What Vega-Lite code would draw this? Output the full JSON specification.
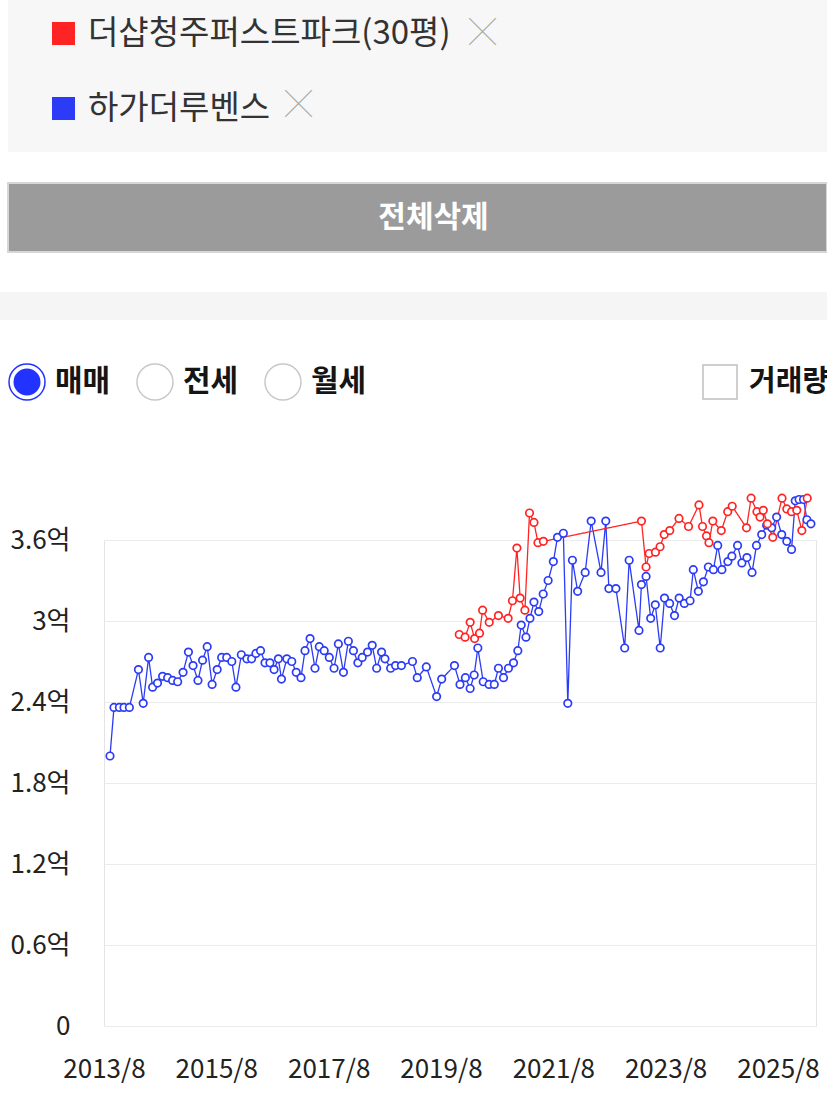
{
  "$schema": "https://vega.github.io/schema/vega-lite/v6.json",
  "background": "white",
  "padding": 0,
  "autosize": {"type": "pad"},
  "bounds": "full",
  "spacing": 39,
  "config": {
    "font": "Noto Sans CJK KR",
    "view": {"stroke": null}
  },
  "datasets": {
    "prices": [
      {"complex":"하가더루벤스","date":"2013-09-09","price":2.00},
      {"complex":"하가더루벤스","date":"2013-10-05","price":2.36},
      {"complex":"하가더루벤스","date":"2013-11-09","price":2.36},
      {"complex":"하가더루벤스","date":"2013-12-09","price":2.36},
      {"complex":"하가더루벤스","date":"2014-01-13","price":2.36},
      {"complex":"하가더루벤스","date":"2014-03-13","price":2.64},
      {"complex":"하가더루벤스","date":"2014-04-13","price":2.39},
      {"complex":"하가더루벤스","date":"2014-05-18","price":2.73},
      {"complex":"하가더루벤스","date":"2014-06-13","price":2.51},
      {"complex":"하가더루벤스","date":"2014-07-15","price":2.54},
      {"complex":"하가더루벤스","date":"2014-08-17","price":2.59},
      {"complex":"하가더루벤스","date":"2014-09-19","price":2.58},
      {"complex":"하가더루벤스","date":"2014-10-21","price":2.56},
      {"complex":"하가더루벤스","date":"2014-11-23","price":2.55},
      {"complex":"하가더루벤스","date":"2014-12-28","price":2.62},
      {"complex":"하가더루벤스","date":"2015-02-01","price":2.77},
      {"complex":"하가더루벤스","date":"2015-03-03","price":2.67},
      {"complex":"하가더루벤스","date":"2015-04-04","price":2.56},
      {"complex":"하가더루벤스","date":"2015-05-04","price":2.71},
      {"complex":"하가더루벤스","date":"2015-06-03","price":2.81},
      {"complex":"하가더루벤스","date":"2015-07-05","price":2.53},
      {"complex":"하가더루벤스","date":"2015-08-07","price":2.64},
      {"complex":"하가더루벤스","date":"2015-09-05","price":2.73},
      {"complex":"하가더루벤스","date":"2015-10-08","price":2.73},
      {"complex":"하가더루벤스","date":"2015-11-10","price":2.70},
      {"complex":"하가더루벤스","date":"2015-12-07","price":2.51},
      {"complex":"하가더루벤스","date":"2016-01-11","price":2.75},
      {"complex":"하가더루벤스","date":"2016-02-16","price":2.72},
      {"complex":"하가더루벤스","date":"2016-03-18","price":2.72},
      {"complex":"하가더루벤스","date":"2016-04-15","price":2.76},
      {"complex":"하가더루벤스","date":"2016-05-15","price":2.78},
      {"complex":"하가더루벤스","date":"2016-06-13","price":2.69},
      {"complex":"하가더루벤스","date":"2016-07-15","price":2.69},
      {"complex":"하가더루벤스","date":"2016-08-11","price":2.64},
      {"complex":"하가더루벤스","date":"2016-09-08","price":2.72},
      {"complex":"하가더루벤스","date":"2016-09-28","price":2.57},
      {"complex":"하가더루벤스","date":"2016-11-02","price":2.72},
      {"complex":"하가더루벤스","date":"2016-12-04","price":2.70},
      {"complex":"하가더루벤스","date":"2017-01-02","price":2.62},
      {"complex":"하가더루벤스","date":"2017-02-02","price":2.58},
      {"complex":"하가더루벤스","date":"2017-02-28","price":2.78},
      {"complex":"하가더루벤스","date":"2017-04-02","price":2.87},
      {"complex":"하가더루벤스","date":"2017-05-04","price":2.65},
      {"complex":"하가더루벤스","date":"2017-06-01","price":2.81},
      {"complex":"하가더루벤스","date":"2017-07-03","price":2.78},
      {"complex":"하가더루벤스","date":"2017-08-05","price":2.73},
      {"complex":"하가더루벤스","date":"2017-09-05","price":2.65},
      {"complex":"하가더루벤스","date":"2017-10-03","price":2.83},
      {"complex":"하가더루벤스","date":"2017-11-05","price":2.62},
      {"complex":"하가더루벤스","date":"2017-12-07","price":2.85},
      {"complex":"하가더루벤스","date":"2018-01-09","price":2.78},
      {"complex":"하가더루벤스","date":"2018-02-07","price":2.69},
      {"complex":"하가더루벤스","date":"2018-03-07","price":2.73},
      {"complex":"하가더루벤스","date":"2018-04-11","price":2.77},
      {"complex":"하가더루벤스","date":"2018-05-11","price":2.82},
      {"complex":"하가더루벤스","date":"2018-06-09","price":2.65},
      {"complex":"하가더루벤스","date":"2018-07-11","price":2.77},
      {"complex":"하가더루벤스","date":"2018-08-02","price":2.72},
      {"complex":"하가더루벤스","date":"2018-09-08","price":2.65},
      {"complex":"하가더루벤스","date":"2018-10-10","price":2.67},
      {"complex":"하가더루벤스","date":"2018-11-17","price":2.67},
      {"complex":"하가더루벤스","date":"2019-01-28","price":2.70},
      {"complex":"하가더루벤스","date":"2019-02-28","price":2.58},
      {"complex":"하가더루벤스","date":"2019-04-28","price":2.66},
      {"complex":"하가더루벤스","date":"2019-07-04","price":2.44},
      {"complex":"하가더루벤스","date":"2019-08-06","price":2.57},
      {"complex":"하가더루벤스","date":"2019-10-28","price":2.67},
      {"complex":"하가더루벤스","date":"2019-12-03","price":2.53},
      {"complex":"하가더루벤스","date":"2020-01-07","price":2.58},
      {"complex":"하가더루벤스","date":"2020-02-07","price":2.50},
      {"complex":"하가더루벤스","date":"2020-03-04","price":2.60},
      {"complex":"하가더루벤스","date":"2020-03-28","price":2.80},
      {"complex":"하가더루벤스","date":"2020-05-02","price":2.55},
      {"complex":"하가더루벤스","date":"2020-06-09","price":2.53},
      {"complex":"하가더루벤스","date":"2020-07-13","price":2.53},
      {"complex":"하가더루벤스","date":"2020-08-09","price":2.65},
      {"complex":"하가더루벤스","date":"2020-09-11","price":2.58},
      {"complex":"하가더루벤스","date":"2020-10-13","price":2.65},
      {"complex":"하가더루벤스","date":"2020-11-15","price":2.69},
      {"complex":"하가더루벤스","date":"2020-12-13","price":2.78},
      {"complex":"하가더루벤스","date":"2021-01-04","price":2.97},
      {"complex":"하가더루벤스","date":"2021-02-04","price":2.88},
      {"complex":"하가더루벤스","date":"2021-03-02","price":3.02},
      {"complex":"하가더루벤스","date":"2021-03-28","price":3.14},
      {"complex":"하가더루벤스","date":"2021-04-28","price":3.07},
      {"complex":"하가더루벤스","date":"2021-05-27","price":3.20},
      {"complex":"하가더루벤스","date":"2021-06-28","price":3.30},
      {"complex":"하가더루벤스","date":"2021-08-01","price":3.44},
      {"complex":"하가더루벤스","date":"2021-08-28","price":3.62},
      {"complex":"하가더루벤스","date":"2021-10-05","price":3.65},
      {"complex":"하가더루벤스","date":"2021-11-03","price":2.39},
      {"complex":"하가더루벤스","date":"2021-12-03","price":3.45},
      {"complex":"하가더루벤스","date":"2022-01-06","price":3.22},
      {"complex":"하가더루벤스","date":"2022-02-24","price":3.36},
      {"complex":"하가더루벤스","date":"2022-04-04","price":3.74},
      {"complex":"하가더루벤스","date":"2022-06-07","price":3.36},
      {"complex":"하가더루벤스","date":"2022-07-08","price":3.74},
      {"complex":"하가더루벤스","date":"2022-07-28","price":3.24},
      {"complex":"하가더루벤스","date":"2022-09-12","price":3.24},
      {"complex":"하가더루벤스","date":"2022-11-08","price":2.80},
      {"complex":"하가더루벤스","date":"2022-12-07","price":3.45},
      {"complex":"하가더루벤스","date":"2023-02-09","price":2.93},
      {"complex":"하가더루벤스","date":"2023-02-25","price":3.27},
      {"complex":"하가더루벤스","date":"2023-03-27","price":3.33},
      {"complex":"하가더루벤스","date":"2023-04-26","price":3.02},
      {"complex":"하가더루벤스","date":"2023-05-26","price":3.12},
      {"complex":"하가더루벤스","date":"2023-06-27","price":2.80},
      {"complex":"하가더루벤스","date":"2023-07-25","price":3.17},
      {"complex":"하가더루벤스","date":"2023-08-27","price":3.13},
      {"complex":"하가더루벤스","date":"2023-09-28","price":3.04},
      {"complex":"하가더루벤스","date":"2023-10-28","price":3.17},
      {"complex":"하가더루벤스","date":"2023-12-01","price":3.13},
      {"complex":"하가더루벤스","date":"2024-01-07","price":3.15},
      {"complex":"하가더루벤스","date":"2024-01-28","price":3.38},
      {"complex":"하가더루벤스","date":"2024-03-01","price":3.22},
      {"complex":"하가더루벤스","date":"2024-04-03","price":3.29},
      {"complex":"하가더루벤스","date":"2024-05-05","price":3.40},
      {"complex":"하가더루벤스","date":"2024-06-07","price":3.38},
      {"complex":"하가더루벤스","date":"2024-07-05","price":3.56},
      {"complex":"하가더루벤스","date":"2024-08-01","price":3.38},
      {"complex":"하가더루벤스","date":"2024-09-09","price":3.44},
      {"complex":"하가더루벤스","date":"2024-10-05","price":3.48},
      {"complex":"하가더루벤스","date":"2024-11-11","price":3.56},
      {"complex":"하가더루벤스","date":"2024-12-09","price":3.43},
      {"complex":"하가더루벤스","date":"2025-01-11","price":3.47},
      {"complex":"하가더루벤스","date":"2025-02-13","price":3.36},
      {"complex":"하가더루벤스","date":"2025-03-14","price":3.56},
      {"complex":"하가더루벤스","date":"2025-04-17","price":3.64},
      {"complex":"하가더루벤스","date":"2025-05-19","price":3.71},
      {"complex":"하가더루벤스","date":"2025-06-21","price":3.69},
      {"complex":"하가더루벤스","date":"2025-07-23","price":3.77},
      {"complex":"하가더루벤스","date":"2025-08-25","price":3.64},
      {"complex":"하가더루벤스","date":"2025-09-27","price":3.59},
      {"complex":"하가더루벤스","date":"2025-10-28","price":3.53},
      {"complex":"하가더루벤스","date":"2025-11-21","price":3.89},
      {"complex":"하가더루벤스","date":"2025-12-16","price":3.90},
      {"complex":"하가더루벤스","date":"2026-01-14","price":3.90},
      {"complex":"하가더루벤스","date":"2026-02-05","price":3.75},
      {"complex":"하가더루벤스","date":"2026-03-03","price":3.72},
      {"complex":"더샵청주퍼스트파크(30평)","date":"2019-11-28","price":2.90},
      {"complex":"더샵청주퍼스트파크(30평)","date":"2020-01-05","price":2.88},
      {"complex":"더샵청주퍼스트파크(30평)","date":"2020-02-07","price":2.99},
      {"complex":"더샵청주퍼스트파크(30평)","date":"2020-03-07","price":2.87},
      {"complex":"더샵청주퍼스트파크(30평)","date":"2020-04-08","price":2.91},
      {"complex":"더샵청주퍼스트파크(30평)","date":"2020-04-28","price":3.08},
      {"complex":"더샵청주퍼스트파크(30평)","date":"2020-06-10","price":2.99},
      {"complex":"더샵청주퍼스트파크(30평)","date":"2020-08-09","price":3.04},
      {"complex":"더샵청주퍼스트파크(30평)","date":"2020-10-11","price":3.02},
      {"complex":"더샵청주퍼스트파크(30평)","date":"2020-11-08","price":3.15},
      {"complex":"더샵청주퍼스트파크(30평)","date":"2020-12-07","price":3.54},
      {"complex":"더샵청주퍼스트파크(30평)","date":"2020-12-28","price":3.17},
      {"complex":"더샵청주퍼스트파크(30평)","date":"2021-01-28","price":3.08},
      {"complex":"더샵청주퍼스트파크(30평)","date":"2021-02-27","price":3.80},
      {"complex":"더샵청주퍼스트파크(30평)","date":"2021-03-28","price":3.73},
      {"complex":"더샵청주퍼스트파크(30평)","date":"2021-04-23","price":3.58},
      {"complex":"더샵청주퍼스트파크(30평)","date":"2021-05-28","price":3.59},
      {"complex":"더샵청주퍼스트파크(30평)","date":"2023-02-25","price":3.74},
      {"complex":"더샵청주퍼스트파크(30평)","date":"2023-03-27","price":3.40},
      {"complex":"더샵청주퍼스트파크(30평)","date":"2023-04-16","price":3.50},
      {"complex":"더샵청주퍼스트파크(30평)","date":"2023-05-27","price":3.51},
      {"complex":"더샵청주퍼스트파크(30평)","date":"2023-06-26","price":3.55},
      {"complex":"더샵청주퍼스트파크(30평)","date":"2023-07-23","price":3.64},
      {"complex":"더샵청주퍼스트파크(30평)","date":"2023-08-28","price":3.67},
      {"complex":"더샵청주퍼스트파크(30평)","date":"2023-10-27","price":3.76},
      {"complex":"더샵청주퍼스트파크(30평)","date":"2023-12-28","price":3.70},
      {"complex":"더샵청주퍼스트파크(30평)","date":"2024-03-05","price":3.86},
      {"complex":"더샵청주퍼스트파크(30평)","date":"2024-03-28","price":3.70},
      {"complex":"더샵청주퍼스트파크(30평)","date":"2024-04-23","price":3.63},
      {"complex":"더샵청주퍼스트파크(30평)","date":"2024-05-09","price":3.58},
      {"complex":"더샵청주퍼스트파크(30평)","date":"2024-06-03","price":3.74},
      {"complex":"더샵청주퍼스트파크(30평)","date":"2024-07-28","price":3.67},
      {"complex":"더샵청주퍼스트파크(30평)","date":"2024-09-08","price":3.81},
      {"complex":"더샵청주퍼스트파크(30평)","date":"2024-10-07","price":3.85},
      {"complex":"더샵청주퍼스트파크(30평)","date":"2025-01-08","price":3.69},
      {"complex":"더샵청주퍼스트파크(30평)","date":"2025-02-07","price":3.91},
      {"complex":"더샵청주퍼스트파크(30평)","date":"2025-03-17","price":3.81},
      {"complex":"더샵청주퍼스트파크(30평)","date":"2025-04-06","price":3.77},
      {"complex":"더샵청주퍼스트파크(30평)","date":"2025-04-27","price":3.82},
      {"complex":"더샵청주퍼스트파크(30평)","date":"2025-05-24","price":3.72},
      {"complex":"더샵청주퍼스트파크(30평)","date":"2025-06-28","price":3.62},
      {"complex":"더샵청주퍼스트파크(30평)","date":"2025-08-27","price":3.91},
      {"complex":"더샵청주퍼스트파크(30평)","date":"2025-09-27","price":3.83},
      {"complex":"더샵청주퍼스트파크(30평)","date":"2025-10-28","price":3.81},
      {"complex":"더샵청주퍼스트파크(30평)","date":"2025-12-01","price":3.82},
      {"complex":"더샵청주퍼스트파크(30평)","date":"2026-01-03","price":3.67},
      {"complex":"더샵청주퍼스트파크(30평)","date":"2026-02-07","price":3.91}
    ],
    "modes": [
      {"mode":"매매","selected":true},
      {"mode":"전세","selected":false},
      {"mode":"월세","selected":false}
    ]
  },
  "vconcat": [
    {
      "bounds": "flush",
      "spacing": 7,
      "hconcat": [
        {"width": 1, "height": 1, "data": {"values": []}, "mark": {"type": "point", "opacity": 0}},
        {
          "bounds": "flush",
          "spacing": 31,
          "vconcat": [
            {"width": 819, "height": 152, "view": {"fill": "#f7f7f7", "stroke": null}, "data": {"values": []}, "mark": {"type": "point", "opacity": 0}},
            {
              "width": 819, "height": 69,
              "view": {"fill": "#9b9b9b", "stroke": "#d6d6d6", "strokeWidth": 2},
              "data": {"values": [{"label": "전체삭제"}]},
              "mark": {"type": "text", "fontSize": 30, "fontWeight": "bold", "color": "white", "dx": 16, "baseline": "middle"},
              "encoding": {"text": {"field": "label"}}
            }
          ]
        }
      ]
    },
    {"width": 827, "height": 28, "view": {"fill": "#f5f5f5", "stroke": null}, "data": {"values": []}, "mark": {"type": "point", "opacity": 0}},
    {
      "bounds": "full",
      "spacing": 85,
      "vconcat": [
        {
          "bounds": "flush",
          "spacing": 393,
          "hconcat": [
            {
              "width": 310, "height": 46,
              "data": {"name": "modes"},
              "encoding": {"x": {"field": "mode", "type": "nominal", "scale": {"type": "point", "domain": ["매매","전세","월세"], "padding": 0.211}, "axis": null}},
              "layer": [
                {
                  "mark": {"type": "point", "shape": "circle", "filled": true, "fill": "white", "size": 1296, "strokeWidth": 1.5, "opacity": 1},
                  "encoding": {"stroke": {"condition": {"test": "datum.selected", "value": "#2233ff"}, "value": "#c8c8c8"}}
                },
                {
                  "transform": [{"filter": "datum.selected"}],
                  "mark": {"type": "point", "shape": "circle", "filled": true, "color": "#2233ff", "size": 729, "opacity": 1}
                },
                {
                  "mark": {"type": "text", "align": "left", "baseline": "middle", "dx": 28, "fontSize": 30, "fontWeight": "bold", "color": "#151515"},
                  "encoding": {"text": {"field": "mode"}}
                }
              ]
            },
            {
              "width": 34, "height": 46,
              "data": {"values": [{"label": "거래량"}]},
              "layer": [
                {"mark": {"type": "point", "shape": "square", "filled": true, "fill": "white", "stroke": "#c0c0c0", "strokeWidth": 1.5, "size": 1156, "opacity": 1}},
                {
                  "mark": {"type": "text", "align": "left", "baseline": "middle", "dx": 29, "fontSize": 29, "fontWeight": "bold", "color": "#151515"},
                  "encoding": {"text": {"field": "label"}}
                }
              ]
            }
          ]
        },
        {
          "bounds": "flush",
          "spacing": 103,
          "hconcat": [
            {"width": 1, "height": 1, "data": {"values": []}, "mark": {"type": "point", "opacity": 0}},
            {
              "width": 712, "height": 486,
              "view": {"stroke": "#e4e4e4", "strokeWidth": 1},
              "data": {"name": "prices"},
              "encoding": {
                "x": {
                  "field": "date", "type": "temporal", "title": null,
                  "scale": {"type": "utc", "domain": [{"year": 2013, "month": 8, "date": 1, "utc": true}, {"year": 2026, "month": 4, "date": 5, "utc": true}]},
                  "axis": {
                    "values": [
                      {"year": 2013, "month": 8, "date": 1, "utc": true},
                      {"year": 2015, "month": 8, "date": 1, "utc": true},
                      {"year": 2017, "month": 8, "date": 1, "utc": true},
                      {"year": 2019, "month": 8, "date": 1, "utc": true},
                      {"year": 2021, "month": 8, "date": 1, "utc": true},
                      {"year": 2023, "month": 8, "date": 1, "utc": true},
                      {"year": 2025, "month": 8, "date": 1, "utc": true}
                    ],
                    "format": "%Y/%-m", "grid": false, "domain": false, "ticks": false,
                    "labelFontSize": 26, "labelColor": "#222222", "labelPadding": 30, "labelFlush": false, "labelOverlap": false
                  }
                },
                "y": {
                  "field": "price", "type": "quantitative", "title": null,
                  "scale": {"domain": [0, 3.6], "nice": false},
                  "axis": {
                    "values": [0, 0.6, 1.2, 1.8, 2.4, 3, 3.6],
                    "format": "~g",
                    "labelExpr": "datum.value == 0 ? '0' : datum.label + '억'",
                    "grid": true, "gridColor": "#ebebeb", "gridWidth": 1, "domain": false, "ticks": false,
                    "labelFontSize": 26, "labelColor": "#222222", "labelPadding": 34
                  }
                },
                "color": {
                  "field": "complex", "type": "nominal",
                  "scale": {"domain": ["더샵청주퍼스트파크(30평)", "하가더루벤스"], "range": ["#ff2424", "#2b3bf6"]},
                  "legend": {
                    "orient": "none", "legendX": 47, "legendY": 17, "title": null, "direction": "vertical",
                    "symbolType": "square", "symbolSize": 121, "symbolStrokeWidth": 12, "symbolOpacity": 1,
                    "labelFontSize": 33, "labelColor": "#333333", "labelOffset": 8, "rowPadding": 16,
                    "labelLimit": 900, "padding": 0, "zindex": 2
                  }
                }
              },
              "layer": [
                {
                  "mark": {"type": "line", "strokeWidth": 1.3},
                  "encoding": {
                    "strokeDash": {
                      "field": "complex", "type": "nominal",
                      "scale": {"domain": ["더샵청주퍼스트파크(30평)", "하가더루벤스", "-"], "range": [[1, 0], [1, 0], [1, 0]]},
                      "legend": {
                        "orient": "none", "legendX": 258, "legendY": 92, "title": null,
                        "values": ["하가더루벤스"],
                        "labelExpr": "'╳'",
                        "symbolSize": 1, "symbolOpacity": 0, "symbolStrokeWidth": 0,
                        "labelFontSize": 27, "labelColor": "#a8a8a8", "labelOffset": 0,
                        "labelLimit": 900, "padding": 0, "zindex": 1
                      }
                    }
                  }
                },
                {
                  "mark": {"type": "point", "shape": "circle", "filled": false, "fill": "white", "size": 56, "strokeWidth": 1.7, "opacity": 1},
                  "encoding": {
                    "shape": {
                      "field": "complex", "type": "nominal",
                      "scale": {"domain": ["하가더루벤스", "더샵청주퍼스트파크(30평)"], "range": ["circle", "circle"]},
                      "legend": {
                        "orient": "none", "legendX": 442, "legendY": 20, "title": null,
                        "values": ["더샵청주퍼스트파크(30평)"],
                        "labelExpr": "'╳'",
                        "symbolSize": 1, "symbolOpacity": 0, "symbolStrokeWidth": 0,
                        "labelFontSize": 27, "labelColor": "#a8a8a8", "labelOffset": 0,
                        "labelLimit": 900, "padding": 0, "zindex": 1
                      }
                    }
                  }
                }
              ]
            }
          ]
        }
      ]
    }
  ]
}
